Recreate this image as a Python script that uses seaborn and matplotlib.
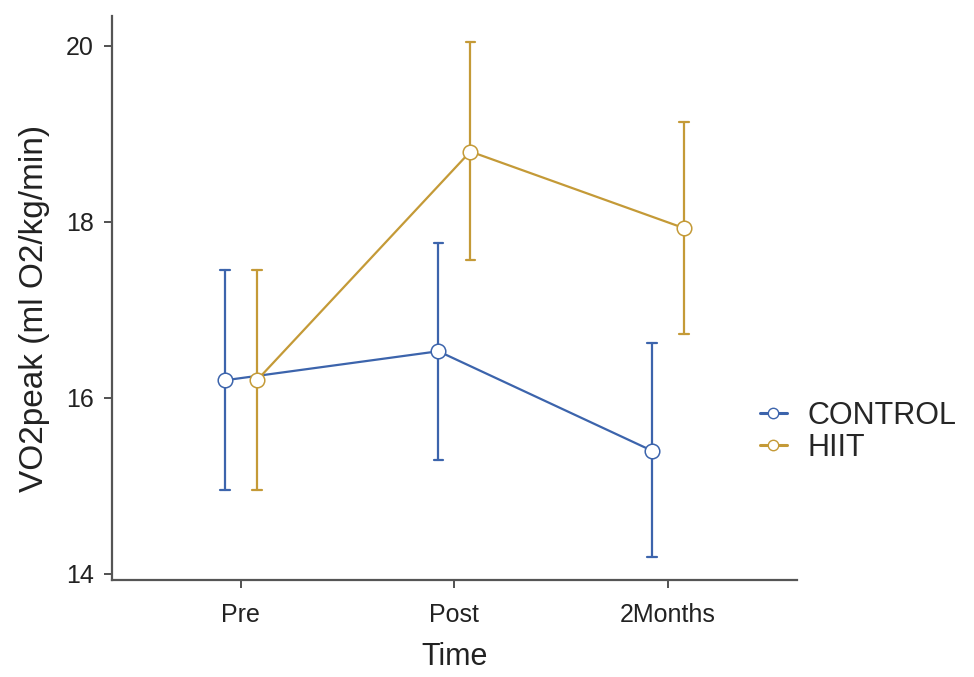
import matplotlib
matplotlib.use("Agg")
import matplotlib.pyplot as plt
from matplotlib.lines import Line2D
import seaborn as sns
import pandas as pd

times = ["Pre", "Post", "2Months"]
groups = ["CONTROL", "HIIT"]
control_mean = [16.20, 16.53, 15.40]
control_low = [14.95, 15.29, 14.19]
control_high = [17.45, 17.76, 16.62]
hiit_mean = [16.20, 18.80, 17.93]
hiit_low = [14.95, 17.57, 16.73]
hiit_high = [17.45, 20.04, 19.14]

rows = []
for g, m, lo, hi in [("CONTROL", control_mean, control_low, control_high),
                     ("HIIT", hiit_mean, hiit_low, hiit_high)]:
    for t, a, b, c in zip(times, lo, m, hi):
        for v in (a, b, c):
            rows.append({"Time": t, "Group": g, "VO2peak": v})
df = pd.DataFrame(rows)

sns.set_theme(style="ticks")
plt.rcParams["font.family"] = ["Liberation Sans", "DejaVu Sans"]

fig = plt.figure(figsize=(9.74, 6.77), dpi=100)
ax = fig.add_axes([0.115, 0.1433, 0.703, 0.833])

palette = {"CONTROL": "#3C64AC", "HIIT": "#C49A37"}
sns.pointplot(data=df, x="Time", y="VO2peak", hue="Group", order=times,
              hue_order=groups, estimator="median", errorbar=("pi", 100),
              dodge=0.15, capsize=0.045, palette=palette, ax=ax,
              markers="o", markersize=10.5, markerfacecolor="white",
              markeredgewidth=1.1, linewidth=1.6,
              err_kws={"linewidth": 1.6})

# draw the marker lines above the error bars so the white fill hides them
for ln in ax.lines:
    if ln.get_marker() == "o":
        ln.set_zorder(5)

ax.set_xlim(-0.604, 2.604)
ax.set_ylim(13.93, 20.34)
ax.set_yticks([14, 16, 18, 20])
ax.set_xlabel("Time", fontsize=22, color="#222222", labelpad=11)
ax.set_ylabel("VO2peak (ml O2/kg/min)", fontsize=24, color="#222222")
ax.yaxis.set_label_coords(-0.0905, 0.482)
ax.tick_params(axis="both", labelsize=18, colors="#333333", length=6, width=1.2,
               labelcolor="#222222")
ax.tick_params(axis="y", pad=7)
ax.tick_params(axis="x", pad=10.5)
for side in ["left", "bottom"]:
    ax.spines[side].set_color("#555555")
    ax.spines[side].set_linewidth(1.6)
sns.despine(ax=ax)

if ax.get_legend() is not None:
    ax.get_legend().remove()
handles = [Line2D([], [], color=palette[g], marker="o", markersize=7.5,
                  markerfacecolor="white", markeredgewidth=1.0, linewidth=2.2)
           for g in groups]
fig.legend(handles, groups, loc="center left", bbox_to_anchor=(0.780, 0.362),
           frameon=False, fontsize=22, handlelength=0.9, handletextpad=0.65,
           labelspacing=0.08, borderpad=0, borderaxespad=0)

fig.savefig("out.png", dpi=100)
